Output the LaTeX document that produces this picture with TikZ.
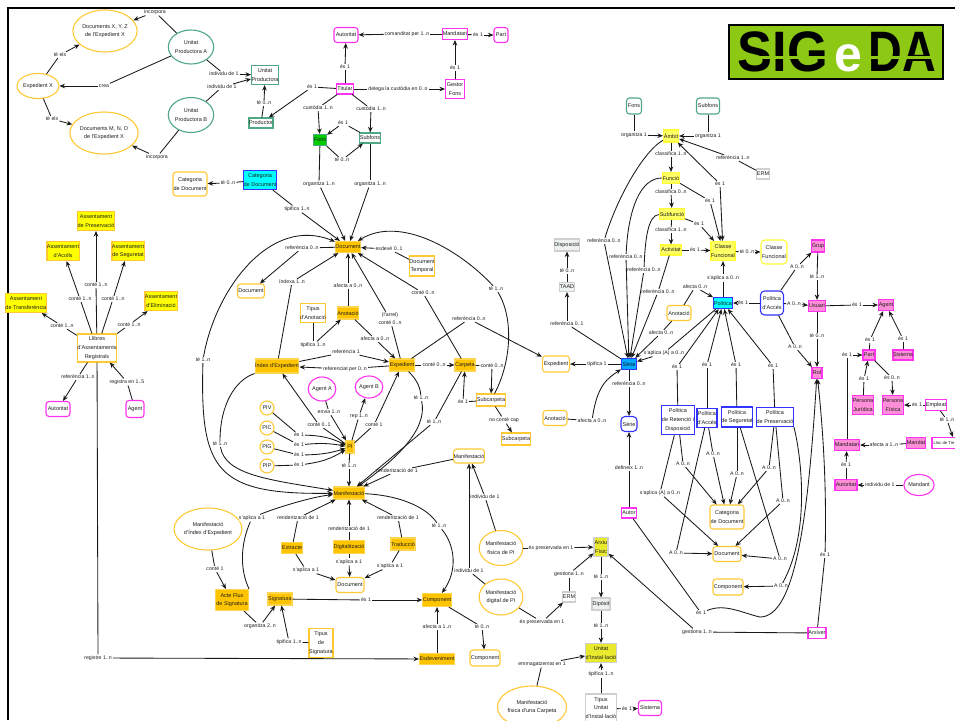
\documentclass[tikz,border=0pt]{standalone}
\usepackage{fontspec}
\setmainfont{Liberation Sans}
\usetikzlibrary{shapes.geometric,arrows.meta}
\definecolor{oy}{HTML}{FFC934}
\definecolor{orf}{HTML}{FFC400}
\definecolor{gr}{HTML}{4FA883}
\definecolor{mg}{HTML}{FF33EE}
\definecolor{mf}{HTML}{FF8ED8}
\definecolor{bl}{HTML}{3333FF}
\definecolor{ye}{HTML}{FFFF33}
\definecolor{ylf}{HTML}{FFFF66}
\definecolor{olv}{HTML}{E9E92E}
\definecolor{lg}{HTML}{CFCFCF}
\definecolor{lime}{HTML}{8CC814}
\definecolor{txt}{HTML}{1E1E1E}
\definecolor{cyn}{HTML}{00FFFF}
\definecolor{yel}{HTML}{FFFF00}
\definecolor{grn}{HTML}{00CC00}
\definecolor{srb}{HTML}{00AAFF}
\definecolor{orl}{HTML}{FFD54F}
\definecolor{grl}{HTML}{EEF1F1}
\tikzset{
 x=1pt,y=-1pt,
 base/.style={inner sep=0pt,align=center,text=txt,line width=1.1pt,font=\fontsize{5.5}{8.6}\selectfont},
 oyE/.style={base,ellipse,draw=oy,fill=white},
 oyR/.style={base,rounded corners=3pt,draw=oy,fill=white},
 oyB/.style={base,draw=oy,fill=white},
 orF/.style={base,draw=orl,fill=orf},
 asF/.style={base,draw=oy,fill=yel},
 gE/.style={base,ellipse,draw=gr,fill=white},
 gB/.style={base,draw=gr,fill=white},
 gR/.style={base,rounded corners=3pt,draw=gr,fill=white},
 gF/.style={base,draw=gr,fill=grn},
 mE/.style={base,ellipse,draw=mg,fill=white},
 mR/.style={base,rounded corners=3pt,draw=mg,fill=white},
 mB/.style={base,draw=mg,fill=white},
 mF/.style={base,draw=mg,fill=mf},
 blB/.style={base,draw=bl,fill=white},
 blR/.style={base,rounded corners=4pt,draw=bl,fill=white},
 cyF/.style={base,draw=bl,fill=cyn},
 srF/.style={base,draw=bl,fill=srb},
 yeF/.style={base,draw=ye,fill=ylf},
 yeR/.style={base,rounded corners=4pt,draw=ye,fill=white},
 olF/.style={base,draw=lg,fill=olv},
 gyB/.style={base,draw=lg,fill=white},
 gyF/.style={base,draw=lg,fill=grl},
 lbl/.style={inner sep=.4pt,outer sep=.8pt,align=center,text=txt,fill=white,font=\fontsize{5.2}{8.2}\selectfont},
 ln/.style={draw=black!90,line width=.85pt},
 ar/.style={ln,-{Stealth[length=5.5pt,width=4.6pt]}},
 logotxt/.style={inner sep=0,text=black,font=\bfseries\fontsize{57}{57}\selectfont},
}
\newcount\kc
% node: style, name, x, y, w, h, text
\newcommand\Nd[7]{\node[#1,minimum width=#5pt,minimum height=#6pt] (#2) at (#3,#4) {#7};}
% label
\newcommand\Lb[4]{\node[lbl] (#1) at (#2,#3) {#4};}
% from, x, y, text, to
\newcommand\K[5]{\global\advance\kc by 1\relax
 \node[lbl] (k\the\kc) at (#2,#3) {#4};
 \draw[ln] (#1) -- (k\the\kc);
 \draw[ar] (k\the\kc) -- (#5);}
\begin{document}
\begin{tikzpicture}
\useasboundingbox (0,0) rectangle (955,720);
\coordinate (fa) at (8,720); \coordinate (fb) at (8,8); \coordinate (fc) at (955,8);
\draw[line width=2.6pt,black,line join=miter] (fa) -- (fb) -- (fc);
% logo
\node[draw=black,line width=1.6pt,fill=lime,minimum width=214pt,minimum height=54pt,inner sep=0] (logo) at (836,52) {};
\node[logotxt,xscale=.92] (logoa) at (783,51.5) {SIG};
\node[logotxt,xscale=.82] (logob) at (902,51.5) {DA};
\fill[lime] (735,56) rectangle (939,58.5);
\node[inner sep=0,text=white,font=\bfseries\fontsize{50}{50}\selectfont] (logoc) at (848,58) {e};
% top-left
\Nd{oyE}{docxyz}{105}{31}{52}{42}{Documents X, Y, Z\\de l'Expedient X}
\Nd{oyE}{expX}{38}{86}{33}{25}{Expedient X}
\Nd{oyE}{docmno}{104}{133}{54}{42}{Documents M, N, O\\de l'Expedient X}
\Nd{gE}{upa}{191}{47}{37}{34}{Unitat\\Productora A}
\Nd{gE}{upb}{191}{115}{37}{35}{Unitat\\Productora B}
\Nd{gB}{up}{265}{75}{26}{19}{Unitat\\Productora}
\Nd{gB}{prod}{261}{123}{24}{10}{Productor}
\Nd{oyR}{catY}{190}{184}{34}{24}{Categoria\\de Document}
\Nd{cyF}{catC}{260}{180}{32}{19}{Categoria\\de Document}
% top-middle
\Nd{mR}{autT}{346}{35}{24}{15}{Autoritat}
\Nd{mB}{mandT}{455}{34}{25}{11}{Mandatari}
\Nd{mR}{partT}{501}{35}{14}{15}{Part}
\Nd{mB}{tit}{345}{89}{17}{10}{Titular}
\Nd{mB}{gest}{455}{89}{19}{19}{Gestor\\Fons}
\Nd{gF}{fons}{320}{140}{13}{11}{Fons}
\Nd{gB}{subf}{370}{138}{20}{10}{Subfons}
% assentaments
\Nd{asF}{aPres}{96}{221}{34}{19}{Assentament\\de Preservació}
\Nd{asF}{aAco}{63}{251}{32}{19}{Assentament\\d'Acolls}
\Nd{asF}{aSeg}{128}{251}{32}{19}{Assentament\\de Seguretat}
\Nd{asF}{aTra}{26}{303}{38}{19}{Assentament\\de Transferència}
\Nd{asF}{aEli}{161}{301}{32}{19}{Assentament\\d'Eliminació}
\Nd{oyB}{llib}{97}{348}{38}{28}{Llibres\\d'Assentaments\\Registrals}
\Nd{mR}{autL}{58}{409}{24}{15}{Autoritat}
\Nd{mR}{agL}{135}{409}{18}{17}{Agent}
% document core
\Nd{orF}{doc}{348}{247}{25}{11}{Document}
\Nd{oyR}{docS}{251}{291}{27}{14}{Document}
\Nd{oyB}{docT}{422}{266}{24}{20}{Document\\Temporal}
\Nd{oyB}{tipA}{313}{313}{25}{19}{Tipus\\d'Anotació}
\Nd{orF}{anot}{348}{313}{21}{12}{Anotació}
\Nd{orF}{idx}{277}{366}{42}{14}{Índex d'Expedient}
\Nd{orF}{exped}{402}{365}{25}{12}{Expedient}
\Nd{orF}{carp}{465}{365}{20}{12}{Carpeta}
\Nd{oyB}{subc}{491}{400}{28}{12}{Subcarpeta}
\Nd{oyB}{subc2}{516}{439}{27}{12}{Subcarpeta}
\Nd{mE}{agA}{322}{389}{24}{24}{Agent A}
\Nd{mE}{agB}{369}{387}{23}{22}{Agent B}
\Nd{oyE}{piv}{267}{408}{14}{14}{PIV}
\Nd{oyE}{pic}{267}{428}{14}{14}{PIC}
\Nd{oyE}{pig}{267}{447}{14}{14}{PIG}
\Nd{oyE}{pip}{267}{466}{14}{14}{PIP}
\Nd{orF}{pi}{350}{447}{8}{12}{PI}
\Nd{orF}{man}{349}{493}{30}{12}{Manifestació}
\Nd{oyR}{manS}{469}{456}{30}{14}{Manifestació}
% lower
\Nd{oyE}{manI}{208}{529}{52}{42}{Manifestació\\d'Índex d'Expedient}
\Nd{orF}{acte}{232}{600}{33}{21}{Acte Flux\\de Signatura}
\Nd{orF}{sign}{280}{599}{24}{12}{Signatura}
\Nd{orF}{extr}{292}{548}{21}{11}{Extracte}
\Nd{orF}{digi}{349}{547}{31}{13}{Digitalització}
\Nd{orF}{trad}{403}{544}{24}{12}{Traducció}
\Nd{oyR}{docR}{350}{585}{28}{15}{Document}
\Nd{orF}{comp}{437}{600}{28}{13}{Component}
\Nd{oyB}{tipS}{321}{643}{24}{29}{Tipus\\de\\Signatura}
\Nd{orF}{esd}{437}{659}{34}{11}{Esdeveniment}
\Nd{oyR}{compR}{485}{658}{30}{16}{Component}
\Nd{oyE}{mfis}{501}{548}{37}{35}{Manifestació\\física de PI}
\Nd{oyE}{mdig}{501}{597}{37}{36}{Manifestació\\digital de PI}
\Nd{oyE}{mcarp}{532}{707}{52}{42}{Manifestació\\física d'una Carpeta}
\Nd{olF}{arxiu}{601}{547}{14}{19}{Arxiu\\Físic}
\Nd{gyF}{dipos}{601}{604}{18}{12}{Dipòsit}
\Nd{olF}{uinst}{601}{653}{30}{19}{Unitat\\d'Instal·lació}
\Nd{gyB}{tui}{601}{708}{20}{28}{Tipus\\Unitat\\d'Instal·lació}
\Nd{mR}{sist}{650}{708}{23}{15}{Sistema}
\Nd{gyB}{ermA}{569}{597}{12}{10}{ERM}
\Nd{mB}{autor}{629}{513}{15}{10}{Autor}
\Nd{blR}{serieR}{629}{424}{16}{15}{Sèrie}
% right
\Nd{gR}{fonsG}{634}{106}{15}{16}{Fons}
\Nd{gR}{subfG}{708}{106}{23}{16}{Subfons}
\Nd{yeF}{amb}{671}{136}{15}{12}{Àmbit}
\Nd{yeF}{func}{671}{178}{17}{11}{Funció}
\Nd{yeF}{subfn}{672}{214}{25}{11}{Subfunció}
\Nd{yeF}{act}{671}{250}{21}{10}{Activitat}
\Nd{yeF}{cf}{723}{251}{24}{19}{Classe\\Funcional}
\Nd{yeR}{cfW}{774}{252}{26}{24}{Classe\\Funcional}
\Nd{gyB}{ermB}{763}{174}{12}{10}{ERM}
\Nd{gyF}{disp}{567}{245}{25}{12}{Disposició}
\Nd{gyF}{taad}{567}{287}{15}{9}{TAAD}
\Nd{cyF}{pol}{723}{303}{19}{11}{Política}
\Nd{oyR}{anR}{679}{313}{24}{15}{Anotació}
\Nd{blR}{polA}{772}{303}{23}{24}{Política\\d'Accés}
\Nd{mF}{usu}{817}{306}{17}{11}{Usuari}
\Nd{mF}{rol}{817}{373}{10}{11}{Rol}
\Nd{srF}{serie}{629}{364}{15}{11}{Sèrie}
\Nd{oyR}{expS}{556}{364}{27}{16}{Expedient}
\Nd{oyR}{anL}{555}{418}{24}{15}{Anotació}
\Nd{blB}{ret}{678}{420}{33}{29}{Política\\de Retenció i\\Disposició}
\Nd{blB}{acc}{707}{418}{20}{19}{Política\\d'Accés}
\Nd{blB}{seg}{737}{417}{31}{20}{Política\\de Seguretat}
\Nd{blB}{pres}{775}{417}{35}{19}{Política\\de Preservació}
\Nd{oyR}{catR}{727}{517}{34}{24}{Categoria\\de Document}
\Nd{oyR}{docD}{727}{554}{28}{15}{Document}
\Nd{oyR}{compD}{728}{587}{30}{16}{Component}
\Nd{mB}{arx}{817}{633}{18}{11}{Arxiver}
\Nd{mF}{grup}{818}{246}{13}{12}{Grup}
\Nd{mF}{ag}{886}{305}{15}{11}{Agent}
\Nd{mF}{partR}{869}{355}{12}{10}{Part}
\Nd{mF}{sisR}{903}{355}{20}{10}{Sistema}
\Nd{mF}{pj}{863}{405}{21}{19}{Persona\\Jurídica}
\Nd{mF}{pf}{893}{405}{21}{19}{Persona\\Física}
\Nd{mB}{emp}{936}{405}{21}{11}{Empleat}
\Nd{mB}{lloc}{955}{443}{46}{11}{}
\node[inner sep=0,text=txt,anchor=west,font=\fontsize{4.2}{6}\selectfont] (lloct) at (933.5,443) {Lloc de Tre};
\Nd{mF}{mandI}{847}{445}{25}{11}{Mandatari}
\Nd{mF}{mandt}{916}{443}{19}{11}{Mandat}
\Nd{mF}{autR}{846}{485}{22}{11}{Autoritat}
\Nd{mE}{mnd}{919}{485}{25}{21}{Mandant}
% connectors: top-left
\K{upa}{155}{12}{incorpora}{docxyz}
\K{upa}{104}{86}{crea}{expX}
\K{expX}{60}{55}{té els}{docxyz}
\K{expX}{52}{119}{té els}{docmno}
\K{upb}{157}{157}{incorpora}{docmno}
\K{upa}{224}{74}{individu de 1}{up}
\K{upb}{222}{87}{individu de 1}{up}
\K{prod}{264}{103}{té 0..n}{up}
\K{tit}{312}{87}{és 1}{prod}
\K{tit}{345}{67}{és 1}{autT}
\K{mandT}{407}{34}{comanditat per 1..n}{autT}
\K{mandT}{478}{35}{és 1}{partT}
\K{gest}{455}{68}{és 1}{mandT}
\K{tit}{398}{89}{delega la custòdia en 0..n}{gest}
\K{tit}{318}{108}{custòdia 1..n}{fons}
\K{tit}{371}{109}{custòdia 1..n}{subf}
\K{subf}{343}{123}{és 1}{fons}
\K{fons}{342}{160}{té 0..n}{subf}
\K{fons}{319}{184}{organitza 1..n}{doc}
\K{subf}{370}{184}{organitza 1..n}{doc}
\K{catC}{228}{183}{té 0..n}{catY}
\K{catC}{297}{209}{tipifica 1..n}{doc}
% llibres
\K{llib}{96}{285}{conté 1..n}{aPres}
\K{llib}{80}{299}{conté 1..n}{aAco}
\K{llib}{113}{299}{conté 1..n}{aSeg}
\K{llib}{62}{326}{conté 1..n}{aTra}
\K{llib}{129}{325}{conté 1..n}{aEli}
\K{llib}{78}{377}{referència 1..n}{autL}
\K{agL}{127}{382}{registra en 1..5}{llib}
\Lb{reg}{98}{658}{registre 1..n}
\draw[ln] (llib) -- (reg);
\draw[ar] (reg) -- (esd);
% document core
\K{doc}{302}{248}{referència 0..n}{docS}
\K{idx}{292}{282}{índexa 1..n}{doc}
\K{docT}{389}{249}{esdevé 0..1}{doc}
\K{anot}{348}{286}{afecta a 0..n}{doc}
\K{exped}{390}{319}{(l'arrel)\\conté 0..n}{doc}
\K{anot}{375}{339}{afecta a 0..n}{exped}
\K{tipA}{313}{345}{tipifica 1..n}{anot}
\K{idx}{346}{352}{referència  1}{exped}
\K{exped}{345}{369}{referenciat per 0..n}{idx}
\K{exped}{434}{365}{conté 0..n}{carp}
\K{carp}{492}{366}{conté 0..n}{subc}
\K{carp}{423}{293}{conté 0..n}{doc}
\K{exped}{469}{319}{referència 0..n}{expS}
\K{subc}{463}{402}{és 1}{carp}
\K{subc}{504}{420}{no conté cap}{subc2}
\K{agA}{329}{412}{envia 1..n}{pi}
\K{pi}{359}{416}{rep 1..n}{agB}
\K{pi}{319}{425}{conté 0..1}{idx}
\K{pi}{374}{425}{conté 1}{exped}
\K{pi}{349}{466}{té 1..n}{man}
\K{manS}{397}{471}{renderització de 1}{man}
\K{carp}{434}{422}{té 1..n}{man}
% curved
\Lb{tl}{203}{360}{té 1..n}
\draw[ar] (tl) .. controls (215,290) and (270,215) .. (doc);
\draw[ar] (tl) .. controls (200,470) and (215,495) .. (man);
\Lb{tm}{220}{444}{té 1..n}
\draw[ln] (idx) .. controls (235,380) and (220,405) .. (tm);
\draw[ar] (tm) .. controls (225,475) and (270,480) .. (man);
\Lb{tr}{496}{289}{té 1..n}
\draw[ar] (tr) .. controls (460,250) and (400,215) .. (doc);
\draw[ln] (subc) .. controls (510,365) and (515,320) .. (tr);
\Lb{te}{421}{398}{té 1..n}
\draw[ln] (exped) .. controls (415,378) and (420,385) .. (te);
\draw[ar] (te) .. controls (428,430) and (395,460) .. (man);
\Lb{tc}{439}{526}{té 1..n}
\draw[ln] (man) .. controls (395,495) and (425,505) .. (tc);
\draw[ar] (tc) .. controls (455,545) and (458,570) .. (comp);
\Lb{sa}{252}{518}{s'aplica a 1}
\draw[ln] (acte.north east) .. controls (240,570) and (240,545) .. (sa);
\draw[ar] (sa) .. controls (270,510) and (310,497) .. (man);
% PIx
\Lb{ea}{299}{435}{és 1}\Lb{eb}{299}{445}{és 1}\Lb{ec}{299}{455}{és 1}\Lb{ed}{299}{465}{és 1}
\draw[ln] (piv) -- (ea); \draw[ln] (pic) -- (eb); \draw[ln] (pig) -- (ec); \draw[ln] (pip) -- (ed);
\draw[ar] (ea) to[bend left=12] (pi);
\draw[ar] (eb) to[bend left=8] (pi);
\draw[ar] (ec) to[bend right=8] (pi);
\draw[ar] (ed) to[bend right=12] (pi);
% lower
\K{extr}{298}{518}{renderització de 1}{man}
\K{digi}{349}{529}{renderització de 1}{man}
\K{trad}{398}{518}{renderització de 1}{man}
\K{extr}{306}{570}{s'aplica a 1}{docR}
\K{digi}{349}{562}{s'aplica a 1}{docR}
\K{trad}{390}{566}{s'aplica a 1}{docR}
\K{manI}{215}{569}{conté 1}{acte}
\K{acte}{260}{626}{organitza 2..n}{sign}
\K{tipS}{289}{642}{tipifica 1..n}{sign}
\K{sign}{366}{600}{és 1}{comp}
\K{esd}{437}{627}{afecta a 1..n}{comp}
\K{comp}{482}{627}{té 0..n}{compR}
\K{mfis}{485}{497}{individu de 1}{manS}
\K{mdig}{469}{571}{individu de 1}{manS}
\K{mfis}{551}{548}{és preservada en 1}{arxiu}
\K{mdig}{542}{622}{és preservada en 1}{ermA}
\K{ermA}{569}{574}{gestiona 1..n}{arxiu}
\K{arxiu}{601}{577}{té 1..n}{dipos}
\K{dipos}{601}{626}{té 1..n}{uinst}
\K{mcarp}{542}{664}{emmagatzemat en 1}{uinst}
\K{tui}{601}{674}{tipifica 1..n}{uinst}
\K{tui}{627}{709}{és 1}{sist}
% right: classification
\K{fonsG}{634}{135}{organitza 1}{amb}
\K{subfG}{708}{136}{organitza 1}{amb}
\K{ermB}{733}{158}{referència 1..n}{amb}
\Lb{ea1}{720}{184}{és 1}
\draw[ar] (ea1) -- (amb);
\draw[ar] (ea1) -- (cf);
\K{amb}{671}{154}{classifica 1..n}{func}
\K{func}{671}{192}{classifica 0..n}{subfn}
\K{subfn}{671}{230}{classifica 1..n}{act}
\K{func}{710}{201}{és 1}{cf}
\K{subfn}{699}{224}{és 1}{cf}
\K{act}{695}{250}{és 1}{cf}
\K{cf}{747}{252}{té 0..n}{cfW}
\K{pol}{723}{278}{s'aplica a 0..n}{cf}
\Lb{ra}{604}{241}{referència 0..n}
\draw[ln] (amb) .. controls (645,150) and (618,195) .. (ra);
\draw[ar] (ra) -- (serie);
\Lb{rb}{626}{257}{referència 0..n}
\draw[ln] (func) .. controls (640,178) and (628,210) .. (rb);
\draw[ar] (rb) -- (serie);
\Lb{rc}{644}{270}{referència 0..n}
\draw[ln] (subfn) .. controls (648,215) and (645,240) .. (rc);
\draw[ar] (rc) -- (serie);
\K{act}{658}{292}{referència 0..n}{serie}
\K{serie}{597}{364}{tipifica 1}{expS}
\K{serie}{567}{324}{referència 0..1}{taad}
\K{taad}{567}{271}{té 0..n}{disp}
\K{serie}{629}{384}{referència 0..n}{serieR}
\K{anR}{661}{333}{afecta 0..n}{serie}
\K{anR}{695}{287}{afecta 0..n}{pol}
\K{pol}{664}{353}{s'aplica (A) a 0..n}{serie}
\Lb{al}{592}{421}{afecta a 0..n}
\draw[ln] (anL) -- (al);
\draw[ar] (al) .. controls (597,385) and (608,378) .. (serie);
\K{ret}{677}{367}{és 1}{pol}
\K{acc}{707}{365}{és 1}{pol}
\K{seg}{736}{365}{és 1}{pol}
\K{pres}{773}{366}{és 1}{pol}
\K{polA}{743}{303}{és 1}{pol}
\K{polA}{794}{304}{A 0..n}{usu}
\K{polA}{797}{267}{A 0..n}{grup}
\K{polA}{795}{347}{A 0..n}{rol}
\K{grup}{817}{277}{té 1..n}{usu}
\K{usu}{817}{336}{té 0..n}{rol}
\K{usu}{857}{305}{és 1}{ag}
\K{partR}{870}{340}{és 1}{ag}
\K{sisR}{903}{339}{és 1}{ag}
\K{pj}{864}{379}{és 1}{partR}
\K{partR}{892}{378}{és 0..n}{pf}
\K{emp}{917}{405}{és 1}{pf}
\K{emp}{947}{420}{té 1..n}{lloc}
\K{mandt}{884}{445}{afecta a  1..n}{mandI}
\K{autR}{846}{465}{és 1}{mandI}
\K{mnd}{880}{485}{individu de 1}{autR}
\K{mandI}{847}{355}{és 1}{partR}
% policies to documents
\K{ret}{683}{464}{A 0..n}{catR}
\K{acc}{713}{454}{A 0..n}{catR}
\K{seg}{737}{474}{A 0..n}{catR}
\K{pres}{769}{468}{A 0..n}{catR}
\K{ret}{660}{493}{s'aplica (A) a 0..n}{docD}
\K{acc}{676}{553}{A 0..n}{docD}
\K{pres}{783}{501}{A 0..n}{docD}
\K{seg}{780}{559}{A 0..n}{docD}
\Lb{ac}{781}{586}{A 0..n}
\draw[ln] (pres.south east) .. controls (800,450) and (812,530) .. (ac);
\draw[ar] (ac) -- (compD);
% autor, arxiver
\K{autor}{629}{468}{defineix 1..n}{serieR}
\Lb{ae}{701}{613}{és 1}
\coordinate (aec) at (760,617);
\draw[ln] (autor) -- (ae);
\draw[ar] (ae) .. controls (725,603) and (742,613) .. (aec) .. controls (795,617) and (808,520) .. (rol);
\Lb{ax}{825}{555}{és 1}
\draw[ln] (arx) -- (ax);
\draw[ar] (ax) .. controls (827,480) and (822,420) .. (rol);
\K{arx}{697}{632}{gestiona 1..n}{arxiu}
\end{tikzpicture}
\end{document}
